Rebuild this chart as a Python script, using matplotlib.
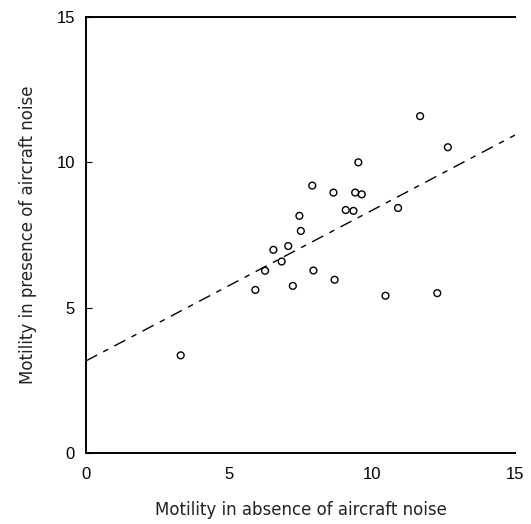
import numpy as np
import matplotlib
matplotlib.use("Agg")
import matplotlib.pyplot as plt

# motility scores
absent = [3.31, 5.92, 6.26, 6.55, 6.84, 7.07, 7.23, 7.46, 7.51, 7.91, 7.95,
          8.65, 8.69, 9.08, 9.35, 9.41, 9.64, 9.52, 10.47, 10.91, 11.68,
          12.28, 12.65]
present = [3.36, 5.61, 6.27, 6.99, 6.59, 7.12, 5.75, 8.16, 7.64, 9.20, 6.28,
           8.96, 5.96, 8.36, 8.33, 8.96, 8.90, 10.00, 5.41, 8.43, 11.59,
           5.50, 10.52]

# fitted line as drawn
fit_intercept = 3.17
fit_slope = 0.518

ticks = [0, 5, 10, 15]

plt.rcParams['font.family'] = ['Liberation Sans', 'DejaVu Sans']

fig = plt.figure(figsize=(5.31, 5.24), dpi=100)
ax = fig.add_axes([0.162, 0.1355, 0.808, 0.832])

ax.scatter(absent, present, s=24, facecolors='none', edgecolors='black',
           linewidths=1.0, zorder=3)

xs = np.array([0, 15])
ax.plot(xs, fit_intercept + fit_slope * xs, color='black', lw=1.0,
        linestyle=(0, (9, 5, 4, 5)))

ax.set_xlim(0, 15)
ax.set_ylim(0, 15)
ax.set_xticks(ticks)
ax.set_yticks(ticks)
ax.tick_params(direction='in', length=4, labelsize=12, pad=8, colors='black')
ax.tick_params(axis='x', length=0, pad=10)

ax.spines['right'].set_visible(False)
for s in ['left', 'top', 'bottom']:
    ax.spines[s].set_linewidth(1.4)

ax.set_xlabel('Motility in absence of aircraft noise', fontsize=12,
              family='DejaVu Sans', labelpad=14, color='#222222')
ax.set_ylabel('Motility in presence of aircraft noise', fontsize=12,
              family='DejaVu Sans', labelpad=14, color='#222222')

fig.savefig('out.png', dpi=100)
